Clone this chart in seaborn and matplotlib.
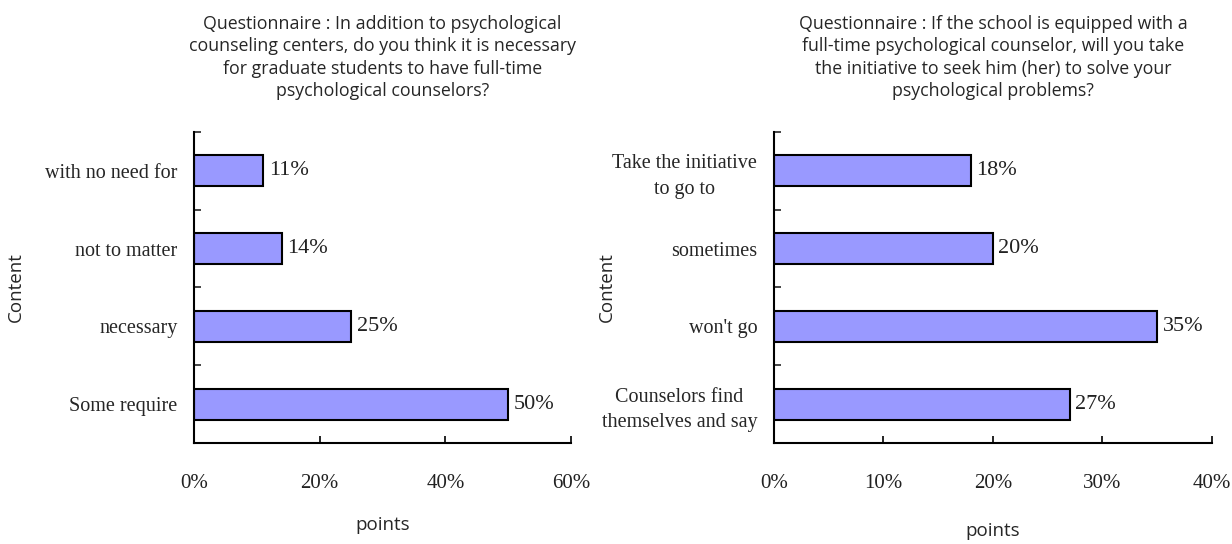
import matplotlib
matplotlib.use("Agg")
import matplotlib.pyplot as plt
import matplotlib.ticker as mticker
import pandas as pd
import seaborn as sns

# ---- data ----
left_title = ("Questionnaire : In addition to psychological\n"
              "counseling centers, do you think it is necessary\n"
              "for graduate students to have full-time\n"
              "psychological counselors?")
left_cats = ["with no need for", "not to matter", "necessary", "Some require"]
left_vals = [11, 14, 25, 50]
left_xticks = [0, 20, 40, 60]

right_title = ("Questionnaire : If the school is equipped with a\n"
               "full-time psychological counselor, will you take\n"
               "the initiative to seek him (her) to solve your\n"
               "psychological problems?")
right_cats = ["Take the initiative\nto go to", "sometimes", "won't go",
              "Counselors find\nthemselves and say"]
right_vals = [18, 20, 35, 27]
right_xticks = [0, 10, 20, 30, 40]

BAR = "#9999FF"
SANS = ["Open Sans", "DejaVu Sans"]
SERIF = ["Liberation Serif", "DejaVu Serif"]

sns.set_theme(style="ticks")
plt.rcParams["font.family"] = SANS

fig = plt.figure(figsize=(12.32, 5.44), dpi=100)
ax1 = fig.add_axes([0.1575, 0.1857, 0.3060, 0.5717])
ax2 = fig.add_axes([0.6282, 0.1857, 0.3555, 0.5717])


def draw(ax, cats, vals, xticks, title, ylab_x, xlab_y):
    df = pd.DataFrame({"Content": cats, "points": vals})
    sns.barplot(data=df, x="points", y="Content", orient="h", color=BAR,
                saturation=1, width=0.4, edgecolor="black", linewidth=1.5, ax=ax)
    ax.set_xlim(xticks[0], xticks[-1])
    ax.set_ylim(len(cats) - 0.5, -0.5)
    ax.set_xticks(xticks)
    ax.xaxis.set_major_formatter(mticker.FuncFormatter(lambda v, p: f"{v:.0f}%"))
    ax.tick_params(axis="x", direction="in", length=5, width=1.2, pad=22,
                   labelsize=15, colors="black")
    for t in ax.get_xticklabels():
        t.set_family(SERIF)
        t.set_color("#222222")
    ax.tick_params(axis="y", which="major", length=0, pad=12, labelsize=14.5)
    ax.set_yticks([i + 0.5 for i in range(-1, len(cats) - 1)], minor=True)
    ax.tick_params(axis="y", which="minor", direction="in", length=5, width=1.2)
    for t in ax.get_yticklabels():
        t.set_family(SERIF)
        t.set_multialignment("center")
        t.set_linespacing(1.45)
    for c in ax.containers:
        ax.bar_label(c, labels=[f"{v:.0f}%" for v in vals], padding=4,
                     fontsize=16, family=SERIF, color="#222222")
    for s in ["left", "bottom"]:
        ax.spines[s].set_linewidth(1.5)
        ax.spines[s].set_color("black")
    sns.despine(ax=ax)
    ax.set_title(title, fontsize=12.8, pad=26, linespacing=1.3)
    ax.set_xlabel("points", fontsize=13.5)
    ax.xaxis.set_label_coords(0.5, xlab_y)
    ax.set_ylabel("Content", fontsize=13.5)
    ax.yaxis.set_label_coords(ylab_x, 0.5)


draw(ax1, left_cats, left_vals, left_xticks, left_title, -0.45, -0.235)
draw(ax2, right_cats, right_vals, right_xticks, right_title, -0.36, -0.255)

fig.savefig("out.png", dpi=100)
